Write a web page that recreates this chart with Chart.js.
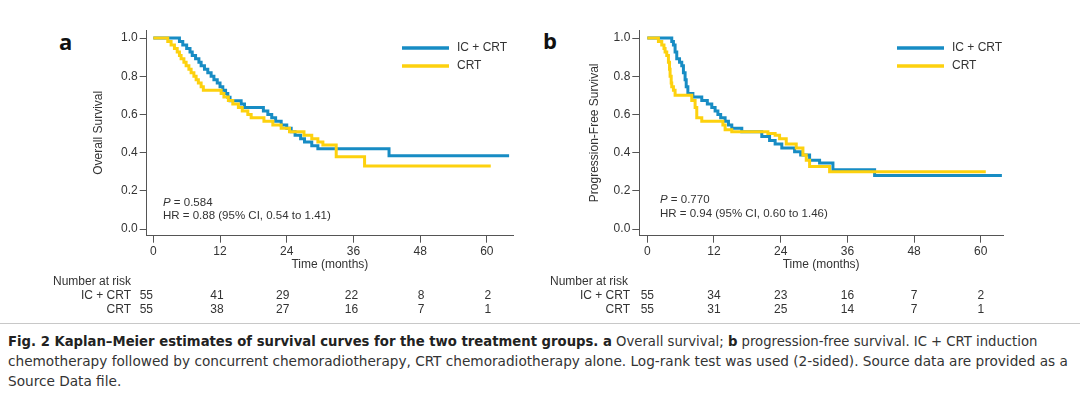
<!DOCTYPE html>
<html>
<head>
<meta charset="utf-8">
<script src="https://cdn.jsdelivr.net/npm/chart.js@4.4.1/dist/chart.umd.min.js"></script>
<style>
  body { margin: 0; width: 1080px; height: 399px; background: #fff; position: relative; overflow: hidden; }
  .box { position: absolute; top: 20px; width: 500px; height: 300px; }
  .letter { position: absolute; font: bold 22px "Open Sans", "DejaVu Sans", sans-serif; line-height: 22px; color: #111; }
  #rule { position: absolute; left: 0; top: 323px; width: 1080px; height: 1px; background: #c8c8c8; }
  .cap { position: absolute; left: 8px; white-space: nowrap; transform-origin: 0 50%;
         font-family: "Liberation Sans Narrow", "DejaVu Sans Condensed", "Liberation Sans", sans-serif;
         font-size: 14.5px; line-height: 20px; color: #333; }
  .cap b { color: #222; }
</style>
</head>
<body>
<div class="letter" style="left:59px; top:30px;">a</div>
<div class="letter" style="left:543px; top:29px;">b</div>
<div class="box" style="left:40px;"><canvas id="osChart"></canvas></div>
<div class="box" style="left:533px;"><canvas id="pfsChart"></canvas></div>
<div id="rule"></div>
<div class="cap" id="cap1" style="top:331px;"><b>Fig. 2 Kaplan–Meier estimates of survival curves for the two treatment groups. a</b> Overall survival; <b>b</b> progression-free survival. IC + CRT induction</div>
<div class="cap" id="cap2" style="top:351px;">chemotherapy followed by concurrent chemoradiotherapy, CRT chemoradiotherapy alone. Log-rank test was used (2-sided). Source data are provided as a</div>
<div class="cap" id="cap3" style="top:371px;">Source Data file.</div>
<script>
// time axis ticks (months) and survival ticks
const months = [0, 12, 24, 36, 48, 60];
const survTicks = [0, 0.2, 0.4, 0.6, 0.8, 1.0];
const groups = ['IC + CRT', 'CRT'];

// overall survival, IC + CRT
const osIcTime = [0, 4.7, 5.3, 6.0, 6.6, 7.0, 7.6, 8.2, 8.6, 9.2, 9.8, 10.4, 10.9, 11.5, 12.0, 12.5, 13.0, 13.4, 13.8, 15.8, 16.4, 19.8, 20.6, 21.3, 22.0, 23.0, 24.0, 24.8, 25.5, 26.5, 27.2, 28.5, 29.6, 42.4, 64.0];
const osIcSurv = [1.0, 0.982, 0.964, 0.945, 0.927, 0.909, 0.891, 0.873, 0.855, 0.836, 0.818, 0.80, 0.782, 0.764, 0.745, 0.727, 0.709, 0.69, 0.672, 0.654, 0.636, 0.618, 0.60, 0.582, 0.564, 0.545, 0.527, 0.509, 0.491, 0.473, 0.455, 0.436, 0.42, 0.383, 0.383];
// overall survival, CRT
const osCrtTime = [0, 2.6, 3.2, 3.8, 4.3, 4.7, 5.0, 5.5, 5.9, 6.4, 6.8, 7.3, 7.7, 8.1, 8.6, 9.0, 12.2, 12.7, 13.5, 14.3, 15.3, 16.0, 17.0, 17.6, 19.9, 21.5, 23.0, 24.5, 27.1, 28.5, 29.6, 30.5, 32.9, 38.0, 60.7];
const osCrtSurv = [1.0, 0.982, 0.964, 0.945, 0.927, 0.909, 0.891, 0.873, 0.855, 0.836, 0.818, 0.80, 0.782, 0.764, 0.745, 0.727, 0.709, 0.691, 0.673, 0.655, 0.636, 0.618, 0.60, 0.582, 0.564, 0.545, 0.527, 0.509, 0.491, 0.473, 0.455, 0.44, 0.378, 0.33, 0.33];
// progression-free survival, IC + CRT
const pfsIcTime = [0, 4.4, 4.7, 5.0, 5.3, 5.8, 6.2, 6.5, 6.8, 7.0, 7.3, 8.2, 9.8, 10.8, 11.6, 12.2, 12.7, 13.2, 14.0, 14.6, 15.2, 17.0, 20.6, 22.0, 23.0, 24.2, 26.5, 27.6, 29.2, 31.0, 33.4, 40.9, 63.8];
const pfsIcSurv = [1.0, 0.982, 0.964, 0.927, 0.891, 0.873, 0.855, 0.818, 0.782, 0.745, 0.709, 0.691, 0.673, 0.655, 0.636, 0.618, 0.60, 0.582, 0.564, 0.545, 0.527, 0.509, 0.485, 0.464, 0.445, 0.424, 0.405, 0.387, 0.36, 0.345, 0.31, 0.28, 0.28];
// progression-free survival, CRT
const pfsCrtTime = [0, 2.0, 2.6, 3.0, 3.2, 3.5, 3.8, 4.0, 4.1, 4.3, 4.4, 4.7, 5.0, 8.0, 8.6, 8.9, 9.8, 13.6, 14.0, 15.2, 21.7, 23.0, 23.8, 25.0, 26.8, 28.0, 28.6, 29.2, 32.8, 60.9];
const pfsCrtSurv = [1.0, 0.982, 0.964, 0.945, 0.927, 0.909, 0.873, 0.836, 0.80, 0.764, 0.745, 0.727, 0.70, 0.673, 0.636, 0.582, 0.564, 0.545, 0.52, 0.509, 0.50, 0.491, 0.473, 0.445, 0.424, 0.387, 0.36, 0.327, 0.30, 0.30];

// number at risk
const osRiskIc = [55, 41, 29, 22, 8, 2];
const osRiskCrt = [55, 38, 27, 16, 7, 1];
const pfsRiskIc = [55, 34, 23, 16, 7, 2];
const pfsRiskCrt = [55, 31, 25, 14, 7, 1];

const blue = '#178cc4';
const yellow = '#fdd10e';
const textFont = '"Liberation Sans", Arial, sans-serif';

function toPoints(times, surv) {
  return times.map((t, i) => ({ x: t, y: surv[i] }));
}

const kmExtras = {
  id: 'kmExtras',
  afterDraw(chart, args, o) {
    const ctx = chart.ctx, xs = chart.scales.x, area = chart.chartArea;
    ctx.save();
    ctx.fillStyle = '#333';
    ctx.textBaseline = 'middle';
    ctx.font = '12px ' + textFont;

    ctx.textAlign = 'center';
    ctx.fillText('Time (months)', (area.left + area.right) / 2, o.titleY);

    ctx.textAlign = 'left';
    ctx.fillText('Number at risk', o.riskLeft, o.riskHeadY);
    o.rows.forEach((row, r) => {
      const y = o.riskRowY[r];
      ctx.textAlign = 'right';
      ctx.fillText(groups[r], o.riskLabelRight, y);
      ctx.textAlign = 'center';
      row.forEach((n, i) => ctx.fillText(String(n), xs.getPixelForValue(months[i]) + o.riskShift[i], y));
    });

    chart.data.datasets.forEach((ds, i) => {
      const y = o.legendY + i * 18;
      ctx.strokeStyle = ds.borderColor;
      ctx.lineWidth = 3.5;
      ctx.beginPath();
      ctx.moveTo(o.legendX, y);
      ctx.lineTo(o.legendX + 47, y);
      ctx.stroke();
      ctx.textAlign = 'left';
      ctx.fillText(ds.label, o.legendX + 55, y);
    });

    ctx.textAlign = 'left';
    ctx.font = 'italic 11.5px ' + textFont;
    ctx.fillText('P', o.statX, o.pY);
    const w = ctx.measureText('P').width;
    ctx.font = '11.5px ' + textFont;
    ctx.fillText(' = ' + o.p, o.statX + w, o.pY);
    ctx.fillText(o.hr, o.statX, o.hrY);
    ctx.restore();
  }
};

function makeKM(id, icTime, icSurv, crtTime, crtSurv, yTitle, lay, extras) {
  new Chart(document.getElementById(id), {
    type: 'line',
    data: {
      datasets: [
        { label: groups[0], data: toPoints(icTime, icSurv), borderColor: blue, order: 2 },
        { label: groups[1], data: toPoints(crtTime, crtSurv), borderColor: yellow, order: 1 }
      ]
    },
    options: {
      responsive: true,
      maintainAspectRatio: false,
      animation: false,
      parsing: false,
      elements: {
        line: { stepped: 'before', borderWidth: 3, tension: 0, fill: false },
        point: { radius: 0 }
      },
      layout: { padding: { left: 50, top: 10, right: lay.right, bottom: 0 } },
      scales: {
        x: {
          type: 'linear', min: lay.xMin, max: lay.xMax,
          afterBuildTicks: (s) => { s.ticks = months.map(v => ({ value: v })); },
          afterFit: (s) => { s.height = 84.3; },
          grid: { drawOnChartArea: false, drawTicks: true, tickLength: 7, color: '#555' },
          border: { display: true, color: '#555', width: 1 },
          ticks: { font: { size: 12, family: textFont }, color: '#333', padding: 2, maxRotation: 0 }
        },
        y: {
          min: -0.035, max: 1.042,
          afterBuildTicks: (s) => { s.ticks = survTicks.map(v => ({ value: v })); },
          afterFit: (s) => { s.width = lay.yWidth; },
          grid: { drawOnChartArea: false, drawTicks: true, tickLength: 7, color: '#555' },
          border: { display: true, color: '#555', width: 1 },
          ticks: { font: { size: 12, family: textFont }, color: '#333', padding: 2, callback: (v) => v.toFixed(1) },
          title: { display: true, text: yTitle, color: '#333', font: { size: 12, family: textFont }, padding: { top: lay.titlePad, bottom: 0 } }
        }
      },
      plugins: {
        legend: { display: false },
        tooltip: { enabled: false },
        kmExtras: extras
      }
    },
    plugins: [kmExtras]
  });
}

makeKM('osChart', osIcTime, osIcSurv, osCrtTime, osCrtSurv, 'Overall Survival',
  { right: 27, xMin: -1.19, xMax: 64.7, yWidth: 56.7, titlePad: 1 },
  { titleY: 245, riskLeft: 13, riskHeadY: 262, riskRowY: [276, 290], riskLabelRight: 91,
    riskShift: [-7, -3, -4, -2, 1, 1], rows: [osRiskIc, osRiskCrt],
    legendX: 362, legendY: 28, statX: 123, pY: 183, hrY: 196, p: '0.584', hr: 'HR = 0.88 (95% CI, 0.54 to 1.41)' });

makeKM('pfsChart', pfsIcTime, pfsIcSurv, pfsCrtTime, pfsCrtSurv, 'Progression-Free Survival',
  { right: 30, xMin: -1.44, xMax: 64.0, yWidth: 56.3, titlePad: 4.8 },
  { titleY: 245, riskLeft: 17, riskHeadY: 262, riskRowY: [276, 290], riskLabelRight: 97,
    riskShift: [0, 0, 0, 0, 0, 0], rows: [pfsRiskIc, pfsRiskCrt],
    legendX: 364, legendY: 28, statX: 127, pY: 180, hrY: 194, p: '0.770', hr: 'HR = 0.94 (95% CI, 0.60 to 1.46)' });

// fit caption lines to the reference line lengths
const c1 = document.getElementById('cap1'), c2 = document.getElementById('cap2'), c3 = document.getElementById('cap3');
const k1 = 1029 / c1.offsetWidth, k2 = 1060 / c2.offsetWidth;
c1.style.transform = 'scaleX(' + k1 + ')';
c2.style.transform = 'scaleX(' + k2 + ')';
c3.style.transform = 'scaleX(' + k2 + ')';
</script>
</body>
</html>
